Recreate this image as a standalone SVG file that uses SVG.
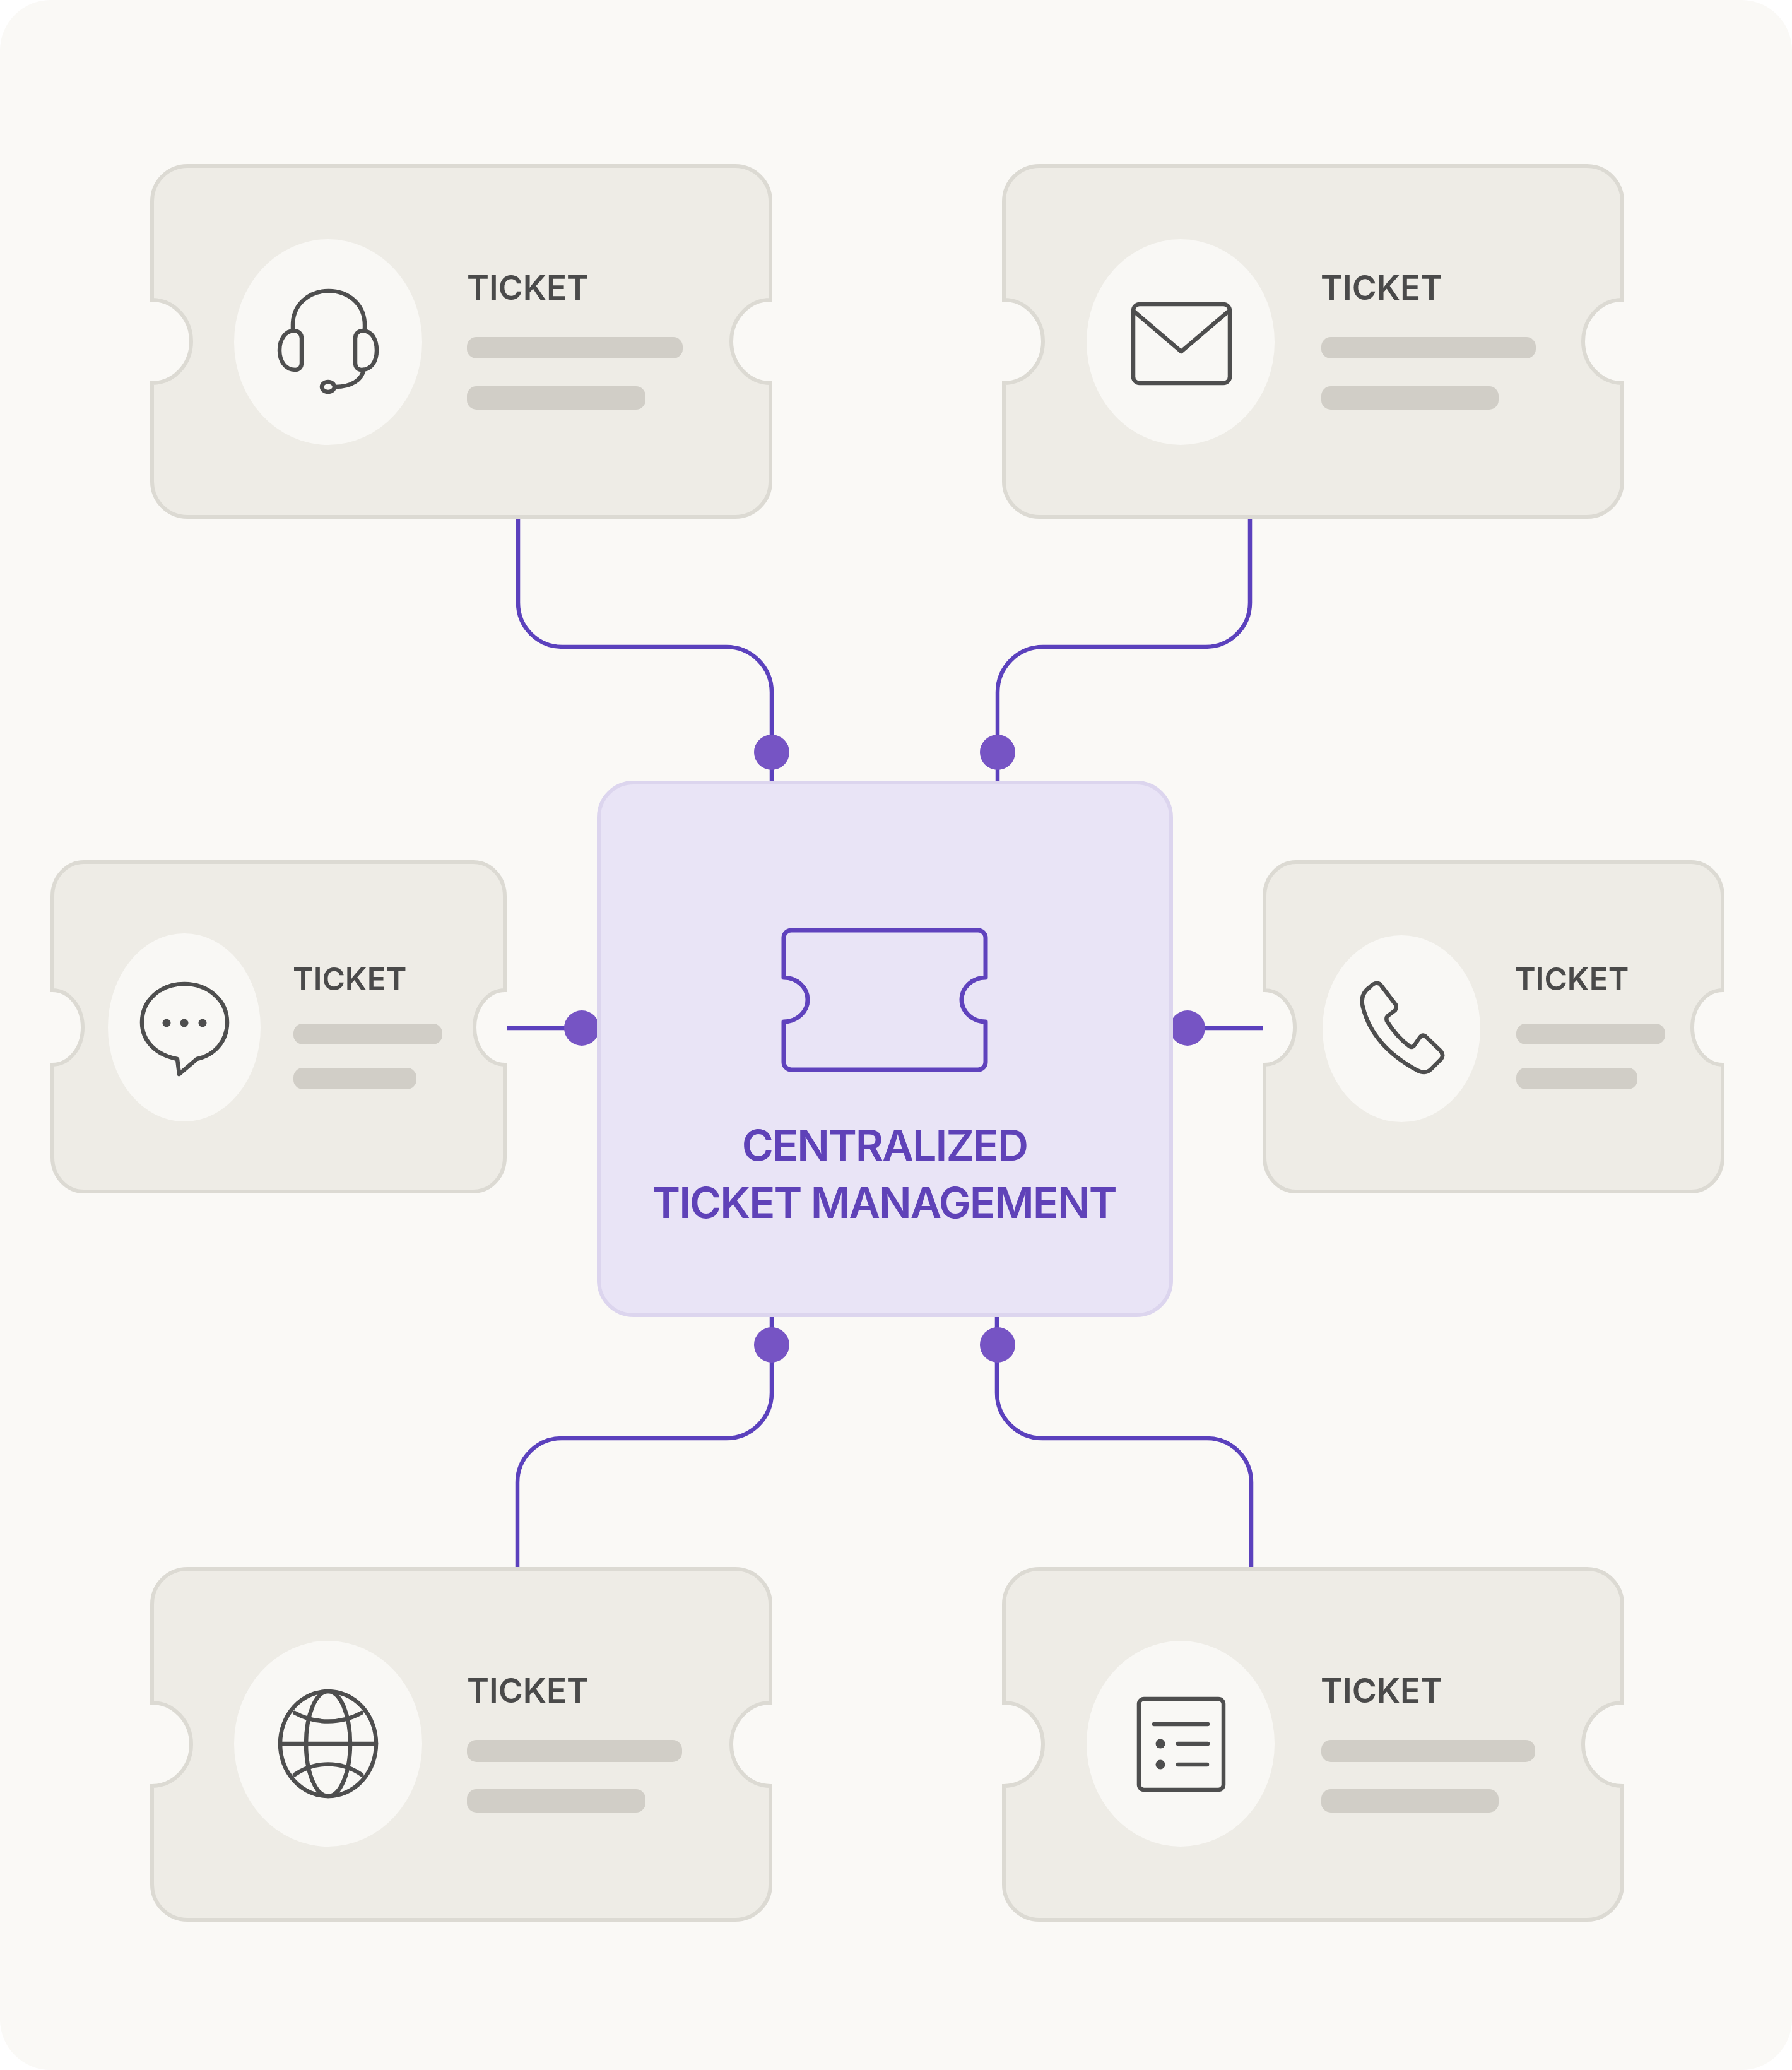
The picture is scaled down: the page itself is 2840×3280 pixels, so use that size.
<svg xmlns="http://www.w3.org/2000/svg" width="2840" height="3280" viewBox="0 0 2840 3280">
<style>
.card{fill:#eeece6;stroke:#dcdad3;stroke-width:6}
.disc{fill:#f9f8f5}
.bar{fill:#d1cec7}
.ttl{font-family:Inter,"Liberation Sans",sans-serif;font-weight:600;fill:#4a4a4a}
.big{font-size:53px}
.mid{font-size:49.5px}
.ico{fill:none;stroke:#4e4e4e;stroke-width:6.5;stroke-linecap:round;stroke-linejoin:round}
.dotk{fill:#4e4e4e}
.wire{fill:none;stroke:#5b41bd;stroke-width:6.5}
.knob{fill:#7654c4}
.hub{fill:#e9e4f6;stroke:#dcd5ee;stroke-width:6}
.hubico{fill:none;stroke:#5f42bd;stroke-width:7;stroke-linejoin:round}
.hubtx{font-family:Inter,"Liberation Sans",sans-serif;font-weight:600;font-size:68px;letter-spacing:-1.9px;fill:#5f42b8;text-anchor:middle}
</style>
<defs>
<path id="tk-lg" d="M56 0H924A56 56 0 0 1 980 56V212A62 66 0 0 0 980 344V500A56 56 0 0 1 924 556H56A56 56 0 0 1 0 500V344A62 66 0 0 0 0 212V56A56 56 0 0 1 56 0Z"/>
<path id="tk-l" d="M50 0H667A50 54 0 0 1 717 54V203A48 59 0 0 0 717 321V468A50 54 0 0 1 667 522H50A50 54 0 0 1 0 468V321A48 59 0 0 0 0 203V54A50 54 0 0 1 50 0Z"/>
<path id="tk-r" d="M50 0H676A50 54 0 0 1 726 54V203A48 59 0 0 0 726 321V468A50 54 0 0 1 676 522H50A50 54 0 0 1 0 468V321A48 59 0 0 0 0 203V54A50 54 0 0 1 50 0Z"/>
</defs>
<rect id="background" x="0" y="0" width="2840" height="3280" fill="#ffffff"/>
<rect id="panel" x="0" y="0" width="2840" height="3280" rx="80" fill="#faf9f6"/>

<g id="connectors">
<path class="wire" d="M821 820V955A70 70 0 0 0 891 1025H1151A72 72 0 0 1 1223 1097V1238"/>
<path class="wire" d="M1981 820V955A70 70 0 0 1 1911 1025H1653A72 72 0 0 0 1581 1097V1238"/>
<path class="wire" d="M820 2484V2349A70 70 0 0 1 890 2279H1151A72 72 0 0 0 1223 2207V2085"/>
<path class="wire" d="M1983 2484V2349A70 70 0 0 0 1913 2279H1652A72 72 0 0 1 1580 2207V2085"/>
<path class="wire" d="M803 1629H948"/>
<path class="wire" d="M1856 1629H2002"/>
<circle class="knob" cx="1223" cy="1192" r="28"/>
<circle class="knob" cx="1581" cy="1192" r="28"/>
<circle class="knob" cx="1223" cy="2131" r="28"/>
<circle class="knob" cx="1581" cy="2131" r="28"/>
<circle class="knob" cx="922" cy="1629" r="28"/>
<circle class="knob" cx="1882" cy="1629" r="28"/>
</g>

<g id="hub">
<rect class="hub" x="949" y="1240" width="907" height="844" rx="55"/>
<path class="hubico" d="M1254 1474H1550A12 12 0 0 1 1562 1486V1549A38 35 0 0 0 1562 1619V1683A12 12 0 0 1 1550 1695H1254A12 12 0 0 1 1242 1683V1619A38 35 0 0 0 1242 1549V1486A12 12 0 0 1 1254 1474Z"/>
<text class="hubtx" x="1402" y="1839">CENTRALIZED</text>
<text class="hubtx" x="1401" y="1930">TICKET MANAGEMENT</text>
</g>

<g id="ticket-headset">
<use href="#tk-lg" class="card" x="241" y="263"/>
<ellipse class="disc" cx="520" cy="542" rx="149" ry="163"/>
<path class="ico" d="M464 523V515C464 482 490 461 521 461C552 461 578 482 578 515V523"/>
<path class="ico" d="M466 524C472 524 478 528 478 536V575C478 582 474 586 468 586C452 586 443 572 443 555C443 538 452 524 466 524Z"/>
<path class="ico" d="M575 524C569 524 563 528 563 536V575C563 582 567 586 573 586C589 586 597 572 597 555C597 538 589 524 575 524Z"/>
<path class="ico" d="M576 586C574 602 556 613 532 613"/>
<ellipse class="ico" cx="520" cy="613" rx="10" ry="8"/>
<text class="ttl big" x="740" y="475">TICKET</text>
<rect class="bar" x="740" y="534" width="342" height="34" rx="15"/>
<rect class="bar" x="740" y="612" width="283" height="37" rx="15"/>
</g>

<g id="ticket-mail">
<use href="#tk-lg" class="card" x="1591" y="263"/>
<ellipse class="disc" cx="1871" cy="542" rx="149" ry="163"/>
<rect class="ico" x="1796" y="482" width="153" height="125" rx="10"/>
<path class="ico" d="M1798 494L1872 557L1946 494"/>
<text class="ttl big" x="2093" y="475">TICKET</text>
<rect class="bar" x="2094" y="534" width="340" height="34" rx="15"/>
<rect class="bar" x="2094" y="612" width="281" height="37" rx="15"/>
</g>

<g id="ticket-chat">
<use href="#tk-l" class="card" x="83" y="1366"/>
<ellipse class="disc" cx="292" cy="1628" rx="121" ry="149"/>
<path class="ico" d="M284 1702L312 1678C340 1672 360 1650 360 1620C360 1585 330 1559 292 1559C254 1559 225 1585 225 1620C225 1650 248 1672 281 1678Z"/>
<circle class="dotk" cx="264" cy="1621" r="6.5"/>
<circle class="dotk" cx="292" cy="1621" r="6.5"/>
<circle class="dotk" cx="321" cy="1621" r="6.5"/>
<text class="ttl mid" x="464" y="1569">TICKET</text>
<rect class="bar" x="465" y="1622" width="236" height="33" rx="15"/>
<rect class="bar" x="465" y="1692" width="195" height="34" rx="15"/>
</g>

<g id="ticket-phone">
<use href="#tk-r" class="card" x="2004" y="1366"/>
<ellipse class="disc" cx="2221" cy="1630" rx="125" ry="148"/>
<path class="ico" d="M2171 1564C2178 1556 2186 1556 2190 1563L2212 1592C2214 1596 2213 1598 2211 1601L2199 1610C2197 1612 2197 1615 2198 1618C2208 1634 2220 1648 2234 1658C2237 1660 2239 1659 2241 1657L2250 1644C2253 1640 2256 1640 2259 1642L2282 1664C2287 1669 2287 1674 2284 1678L2268 1694C2262 1700 2254 1700 2246 1696C2198 1670 2170 1636 2160 1596C2156 1582 2160 1572 2171 1564Z"/>
<text class="ttl mid" x="2401" y="1569">TICKET</text>
<rect class="bar" x="2403" y="1622" width="236" height="33" rx="15"/>
<rect class="bar" x="2403" y="1692" width="192" height="34" rx="15"/>
</g>

<g id="ticket-globe">
<use href="#tk-lg" class="card" x="241" y="2486"/>
<ellipse class="disc" cx="520" cy="2763" rx="149" ry="163"/>
<ellipse class="ico" cx="520" cy="2763" rx="76" ry="83"/>
<ellipse class="ico" cx="520" cy="2763" rx="35" ry="83"/>
<path class="ico" d="M444 2763H596"/>
<path class="ico" d="M467 2714C499 2732 541 2732 573 2714"/>
<path class="ico" d="M467 2812C499 2790 541 2790 573 2812"/>
<text class="ttl big" x="740" y="2698">TICKET</text>
<rect class="bar" x="740" y="2757" width="341" height="35" rx="15"/>
<rect class="bar" x="740" y="2835" width="283" height="37" rx="15"/>
</g>

<g id="ticket-form">
<use href="#tk-lg" class="card" x="1591" y="2486"/>
<ellipse class="disc" cx="1871" cy="2763" rx="149" ry="163"/>
<rect class="ico" x="1805" y="2692" width="134" height="144" rx="8"/>
<path class="ico" d="M1829 2732H1914M1867 2763H1914M1867 2796H1913"/>
<circle class="dotk" cx="1839" cy="2763" r="7.5"/>
<circle class="dotk" cx="1839" cy="2796" r="7.5"/>
<text class="ttl big" x="2093" y="2698">TICKET</text>
<rect class="bar" x="2094" y="2757" width="339" height="35" rx="15"/>
<rect class="bar" x="2094" y="2835" width="281" height="37" rx="15"/>
</g>
</svg>
